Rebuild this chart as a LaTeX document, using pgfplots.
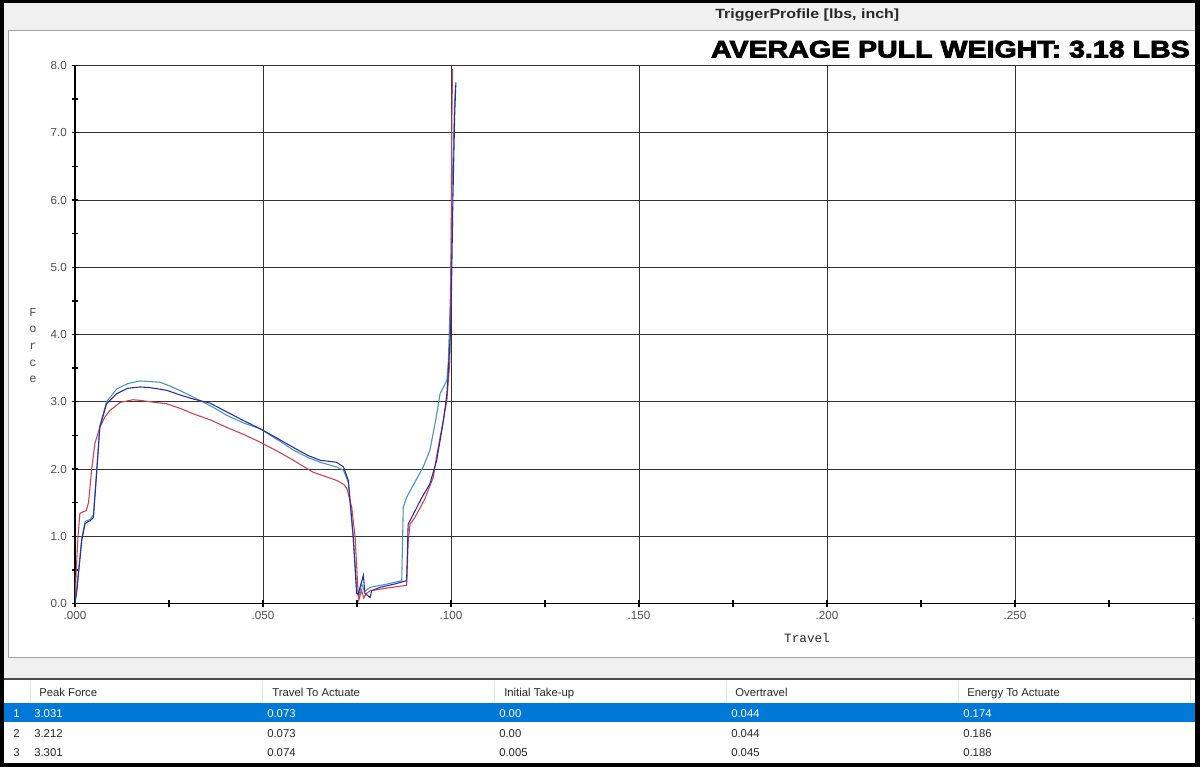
\documentclass[border=0pt]{standalone}
\usepackage{fontspec}
\setmainfont{Liberation Sans}
\setmonofont{Liberation Mono}
\newfontfamily\heavyfont{Liberation Sans}[BoldFeatures={FakeBold=3}]
\usepackage{pgfplots}
\pgfplotsset{compat=1.18}

\definecolor{winbg}{RGB}{240,240,240}
\definecolor{panelline}{RGB}{165,165,165}
\definecolor{selblue}{RGB}{0,120,215}
\definecolor{tickgray}{RGB}{80,80,80}
\definecolor{textdark}{RGB}{40,40,40}
\definecolor{redline}{RGB}{212,62,72}
\definecolor{blueline}{RGB}{34,46,168}
\definecolor{tealline}{RGB}{72,150,176}

\newcommand{\tabfont}{\fontsize{8.5}{10}\selectfont}

\begin{document}
\begin{tikzpicture}[x=0.75pt,y=-0.75pt]
    % window frame
    \fill[black] (0,0) rectangle (1200,767);
    \fill[winbg] (4,3) rectangle (1195,763);
    \filldraw[fill=white,draw=panelline,line width=0.75pt] (8.5,30.5) rectangle (1205,657.5);
    \node[anchor=base west,inner sep=0,text=textdark] at (715,18.5)
        {\scalebox{1.2}[1]{\bfseries\fontsize{10}{12}\selectfont TriggerProfile [lbs, inch]}};

    % results table
    \fill[white] (4,680) rectangle (1195,763);
    \draw[black!70,line width=1.5pt] (4,678.5) -- (1195,678.5);
    \fill[selblue] (4,703) rectangle (1195,722);
    \foreach \x in {30,262,494,726,958,1190}
        \draw[black!10,line width=0.75pt] (\x,681) -- (\x,702);
    \foreach \x/\t in {39/Peak Force,272/Travel To Actuate,504/Initial Take-up,
                       735/Overtravel,967/Energy To Actuate}
        \node[anchor=base west,inner sep=0,text=textdark] at (\x,696) {\tabfont \t};
    \foreach \x/\t in {13/1,34/3.031,267/0.073,499/0.00,731/0.044,963/0.174}
        \node[anchor=base west,inner sep=0,text=white] at (\x,717) {\tabfont \t};
    \foreach \x/\t in {13/2,34/3.212,267/0.073,499/0.00,731/0.044,963/0.186}
        \node[anchor=base west,inner sep=0,text=textdark] at (\x,737) {\tabfont \t};
    \foreach \x/\t in {13/3,34/3.301,267/0.074,499/0.005,731/0.045,963/0.188}
        \node[anchor=base west,inner sep=0,text=textdark] at (\x,756) {\tabfont \t};

    \begin{axis}[
        at={(56.25pt,-452.625pt)},
        anchor=south west,
        scale only axis,
        width=846pt,
        height=403.5pt,
        xmin=0, xmax=0.3,
        ymin=0, ymax=8,
        axis x line*=bottom,
        axis y line*=left,
        axis line style={black,line width=0.8pt},
        xtick={0,0.05,0.1,0.15,0.2,0.25,0.3},
        xticklabels={.000,.050,.100,.150,.200,.250,.300},
        minor xtick={0.025,0.075,0.125,0.175,0.225,0.275},
        ytick={0,1,2,3,4,5,6,7,8},
        yticklabels={0.0,1.0,2.0,3.0,4.0,5.0,6.0,7.0,8.0},
        minor ytick={0.5,1.5,2.5,3.5,4.5,5.5,6.5,7.5},
        grid=major,
        major grid style={draw=black!80,line width=0.75pt},
        tick align=center,
        major tick length=5pt,
        minor tick length=5pt,
        tick style={black,line width=1pt},
        ticklabel style={font=\fontsize{8.75}{10}\selectfont,text=tickgray},
    ]

    % series 3 (peak 3.301)
    \addplot[tealline,line width=0.8pt] coordinates {
        (0,0) (0.0005,0.25) (0.0018,0.97) (0.0027,1.22) (0.0040,1.25)
        (0.0049,1.32) (0.0058,2.00) (0.0066,2.64) (0.0084,3.00) (0.0111,3.19)
        (0.0140,3.27) (0.0173,3.31) (0.0200,3.30) (0.0226,3.29) (0.0250,3.24)
        (0.0270,3.19) (0.0300,3.11) (0.0332,3.02) (0.0370,2.91) (0.0403,2.80)
        (0.0450,2.68) (0.0492,2.60) (0.0540,2.43) (0.0581,2.28) (0.0620,2.17)
        (0.0652,2.10) (0.0696,2.03) (0.0714,1.98) (0.0727,1.80) (0.0740,0.97)
        (0.0750,0.15) (0.0755,0.10) (0.0762,0.30) (0.0770,0.18) (0.0785,0.24)
        (0.0830,0.29) (0.0869,0.34) (0.0873,1.43) (0.0882,1.58) (0.0926,2.03)
        (0.0944,2.28) (0.0960,2.75) (0.0971,3.12) (0.0989,3.32) (0.0993,3.61)
        (0.0998,4.50) (0.1003,6.20) (0.1010,7.50) (0.1012,7.70)
    };

    % series 1 (peak 3.031)
    \addplot[redline,line width=0.8pt] coordinates {
        (0,0) (0.0003,0.45) (0.0008,1.00) (0.0013,1.34) (0.0020,1.36)
        (0.0030,1.38) (0.0036,1.50) (0.0044,1.98) (0.0053,2.38) (0.0066,2.62)
        (0.0080,2.78) (0.0093,2.87) (0.0120,2.99) (0.0154,3.03) (0.0175,3.02)
        (0.0200,3.00) (0.0244,2.97) (0.0280,2.90) (0.0315,2.82) (0.0360,2.73)
        (0.0403,2.62) (0.0450,2.51) (0.0492,2.40) (0.0540,2.26) (0.0581,2.13)
        (0.0610,2.03) (0.0634,1.95) (0.0660,1.90) (0.0696,1.83) (0.0715,1.77)
        (0.0723,1.71) (0.0736,1.43) (0.0745,0.99) (0.0753,0.15) (0.0755,0.05)
        (0.0762,0.20) (0.0768,0.08) (0.0775,0.15) (0.0785,0.19) (0.0830,0.23)
        (0.0882,0.27) (0.0886,0.90) (0.0891,1.18) (0.0904,1.28) (0.0930,1.55)
        (0.0953,1.88) (0.0962,2.20) (0.0971,2.47) (0.0989,3.02) (0.0997,3.61)
        (0.1000,5.00) (0.1002,7.00) (0.1004,7.95)
    };

    % series 2 (peak 3.212)
    \addplot[blueline,line width=0.8pt] coordinates {
        (0,0) (0.0005,0.19) (0.0018,0.94) (0.0027,1.19) (0.0035,1.22)
        (0.0040,1.23) (0.0049,1.28) (0.0058,1.98) (0.0066,2.62) (0.0084,2.97)
        (0.0111,3.12) (0.0140,3.20) (0.0173,3.22) (0.0200,3.21) (0.0244,3.17)
        (0.0280,3.10) (0.0315,3.04) (0.0359,2.98) (0.0400,2.86) (0.0448,2.72)
        (0.0492,2.60) (0.0540,2.45) (0.0581,2.32) (0.0620,2.20) (0.0652,2.13)
        (0.0696,2.10) (0.0714,2.03) (0.0727,1.83) (0.0740,0.99) (0.0749,0.15)
        (0.0753,0.14) (0.0767,0.42) (0.0771,0.15) (0.0785,0.09) (0.0789,0.19)
        (0.0811,0.24) (0.0850,0.29) (0.0882,0.34) (0.0886,1.18) (0.0900,1.33)
        (0.0920,1.55) (0.0944,1.78) (0.0962,2.13) (0.0980,2.72) (0.0989,3.12)
        (0.0993,3.46) (0.1000,4.20) (0.1005,6.00) (0.1010,7.30) (0.1013,7.75)
    };
    \end{axis}

    % axis titles and banner
    \node[text=textdark,font=\ttfamily\fontsize{9.5}{11}\selectfont] at (807,638) {Travel};
    \node[text=tickgray,align=center,font=\ttfamily\fontsize{9}{12.5}\selectfont]
        at (33,345.5) {F\\o\\r\\c\\e};
    \node[anchor=base east,inner sep=0] at (1190,57.5)
        {\scalebox{1.19}[1]{\heavyfont\bfseries\fontsize{18}{18}\selectfont AVERAGE PULL WEIGHT: 3.18 LBS}};

    % right border drawn over the clipped plot panel
    \fill[black] (1195,0) rectangle (1200,767);
    \pgfresetboundingbox
    \useasboundingbox (0,0) rectangle (1200,767);
\end{tikzpicture}
\end{document}
